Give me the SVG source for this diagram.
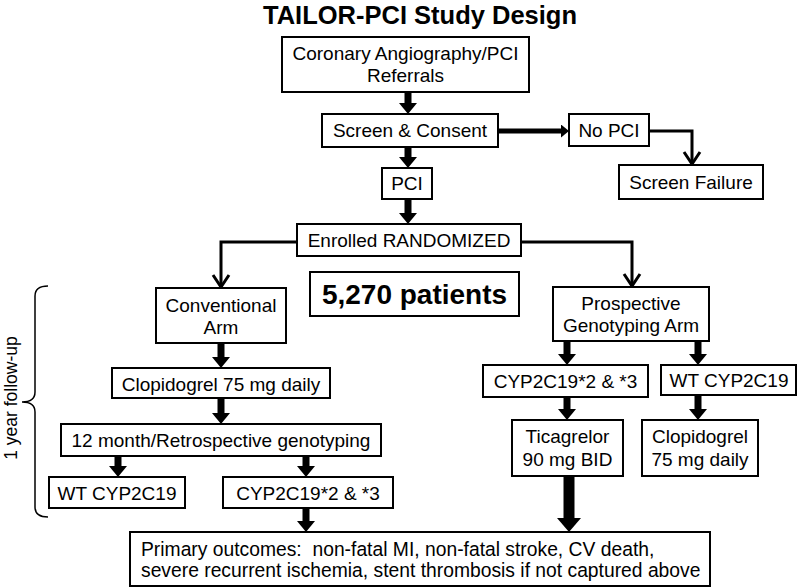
<svg xmlns="http://www.w3.org/2000/svg" width="800" height="588" viewBox="0 0 800 588">
<style>
.b{fill:#fff;stroke:#000;stroke-width:2}
.t{font-family:"Liberation Sans",Arial,sans-serif;font-size:19px;fill:#000;text-anchor:middle}
.k{stroke:#000;fill:none}
</style>
<defs>
<marker id="ah" markerUnits="userSpaceOnUse" markerWidth="11" markerHeight="18" viewBox="0 0 11 18" refX="0" refY="9" orient="auto"><path d="M0,0 L11,9 L0,18 Z" fill="#000"/></marker>
<marker id="ahs" markerUnits="userSpaceOnUse" markerWidth="8" markerHeight="13" viewBox="0 0 8 13" refX="0" refY="6.5" orient="auto"><path d="M0,0 L8,6.5 L0,13 Z" fill="#000"/></marker>
<marker id="ahb" markerUnits="userSpaceOnUse" markerWidth="14" markerHeight="24" viewBox="0 0 14 24" refX="0" refY="12" orient="auto"><path d="M0,0 L14,12 L0,24 Z" fill="#000"/></marker>
<marker id="av" markerUnits="userSpaceOnUse" markerWidth="16" markerHeight="20" viewBox="-2 -2 16 20" refX="12" refY="8" orient="auto"><path d="M0,0 L12,8 L0,16" fill="none" stroke="#000" stroke-width="3"/></marker>
</defs>
<text x="420" y="24" style="font-family:'Liberation Sans',Arial,sans-serif;font-size:25.5px;font-weight:bold;text-anchor:middle">TAILOR-PCI Study Design</text>
<g id="connectors">
<path class="k" stroke-width="7" marker-end="url(#ah)" d="M408,92 V103"/>
<path class="k" stroke-width="7" marker-end="url(#ah)" d="M408,147 V157"/>
<path class="k" stroke-width="7" marker-end="url(#ah)" d="M408,199 V213"/>
<path class="k" stroke-width="5" marker-end="url(#ahs)" d="M498,131 H561"/>
<path class="k" stroke-width="3" marker-end="url(#av)" d="M649,131 H692 V164"/>
<path class="k" stroke-width="3" marker-end="url(#av)" d="M297,242 H221 V287"/>
<path class="k" stroke-width="3" marker-end="url(#av)" d="M521,242 H632 V286"/>
<path class="k" stroke-width="7" marker-end="url(#ah)" d="M221,343 V357"/>
<path class="k" stroke-width="7" marker-end="url(#ah)" d="M221,398 V413"/>
<path class="k" stroke-width="7" marker-end="url(#ah)" d="M118,456 V466"/>
<path class="k" stroke-width="7" marker-end="url(#ah)" d="M306,456 V466"/>
<path class="k" stroke-width="7" marker-end="url(#ah)" d="M306,508 V521"/>
<path class="k" stroke-width="7" marker-end="url(#ah)" d="M567,341 V354"/>
<path class="k" stroke-width="7" marker-end="url(#ah)" d="M698,341 V354"/>
<path class="k" stroke-width="7" marker-end="url(#ah)" d="M567,397 V409"/>
<path class="k" stroke-width="7" marker-end="url(#ah)" d="M698,395 V409"/>
<path class="k" stroke-width="11" marker-end="url(#ahb)" d="M569,476 V518"/>
</g>
<g id="followup">
<path class="k" stroke-width="1.5" d="M48,286 Q35,286 35,296 V392 Q35,402 22,402 Q35,402 35,412 V507 Q35,517 48,517"/>
<text class="t" style="font-size:17.5px" transform="translate(17,398) rotate(-90)">1 year follow-up</text>
</g>
<g id="referrals"><rect class="b" x="282" y="37" width="247" height="55"/><text class="t" x="405.5" y="60">Coronary Angiography/PCI</text><text class="t" x="405.5" y="82">Referrals</text></g>
<g id="screen"><rect class="b" x="322" y="114" width="176" height="33"/><text class="t" x="410" y="137">Screen &amp; Consent</text></g>
<g id="nopci"><rect class="b" x="569" y="114" width="80" height="32"/><text class="t" x="609" y="137">No PCI</text></g>
<g id="failure"><rect class="b" x="619" y="165" width="144" height="34"/><text class="t" x="691" y="189">Screen Failure</text></g>
<g id="pci"><rect class="b" x="382" y="168" width="50" height="31"/><text class="t" x="407" y="190">PCI</text></g>
<g id="enrolled"><rect class="b" x="297" y="224" width="224" height="32"/><text class="t" x="409" y="247">Enrolled RANDOMIZED</text></g>
<g id="patients"><rect class="b" x="310" y="272" width="209" height="44"/><text class="t" x="414.5" y="304" style="font-size:28px;font-weight:bold">5,270 patients</text></g>
<g id="conventional"><rect class="b" x="156" y="288" width="130" height="55"/><text class="t" x="221" y="312">Conventional</text><text class="t" x="221" y="334">Arm</text></g>
<g id="clop1"><rect class="b" x="112" y="368" width="218" height="30"/><text class="t" x="221" y="391">Clopidogrel 75 mg daily</text></g>
<g id="retro"><rect class="b" x="61" y="424" width="320" height="32"/><text class="t" x="221" y="447">12 month/Retrospective genotyping</text></g>
<g id="wt1"><rect class="b" x="49" y="477" width="136" height="31"/><text class="t" x="117" y="500">WT CYP2C19</text></g>
<g id="cyp1"><rect class="b" x="223" y="477" width="170" height="31"/><text class="t" x="308" y="500">CYP2C19*2 &amp; *3</text></g>
<g id="prospective"><rect class="b" x="553" y="287" width="156" height="54"/><text class="t" x="631" y="310">Prospective</text><text class="t" x="631" y="332">Genotyping Arm</text></g>
<g id="cyp2"><rect class="b" x="483" y="365" width="165" height="32"/><text class="t" x="565.5" y="388">CYP2C19*2 &amp; *3</text></g>
<g id="wt2"><rect class="b" x="661" y="365" width="135" height="30"/><text class="t" x="729" y="387">WT CYP2C19</text></g>
<g id="tica"><rect class="b" x="512" y="420" width="111" height="56"/><text class="t" x="567.5" y="443">Ticagrelor</text><text class="t" x="567.5" y="466">90 mg BID</text></g>
<g id="clop2"><rect class="b" x="642" y="420" width="116" height="56"/><text class="t" x="700" y="443">Clopidogrel</text><text class="t" x="700" y="466">75 mg daily</text></g>
<g id="outcomes"><rect class="b" x="130" y="532" width="580" height="54"/><text class="t" x="141" y="556" style="text-anchor:start;font-size:19.3px;white-space:pre">Primary outcomes:  non-fatal MI, non-fatal stroke, CV death,</text><text class="t" x="141" y="577" style="text-anchor:start;font-size:19.3px">severe recurrent ischemia, stent thrombosis if not captured above</text></g>
</svg>
